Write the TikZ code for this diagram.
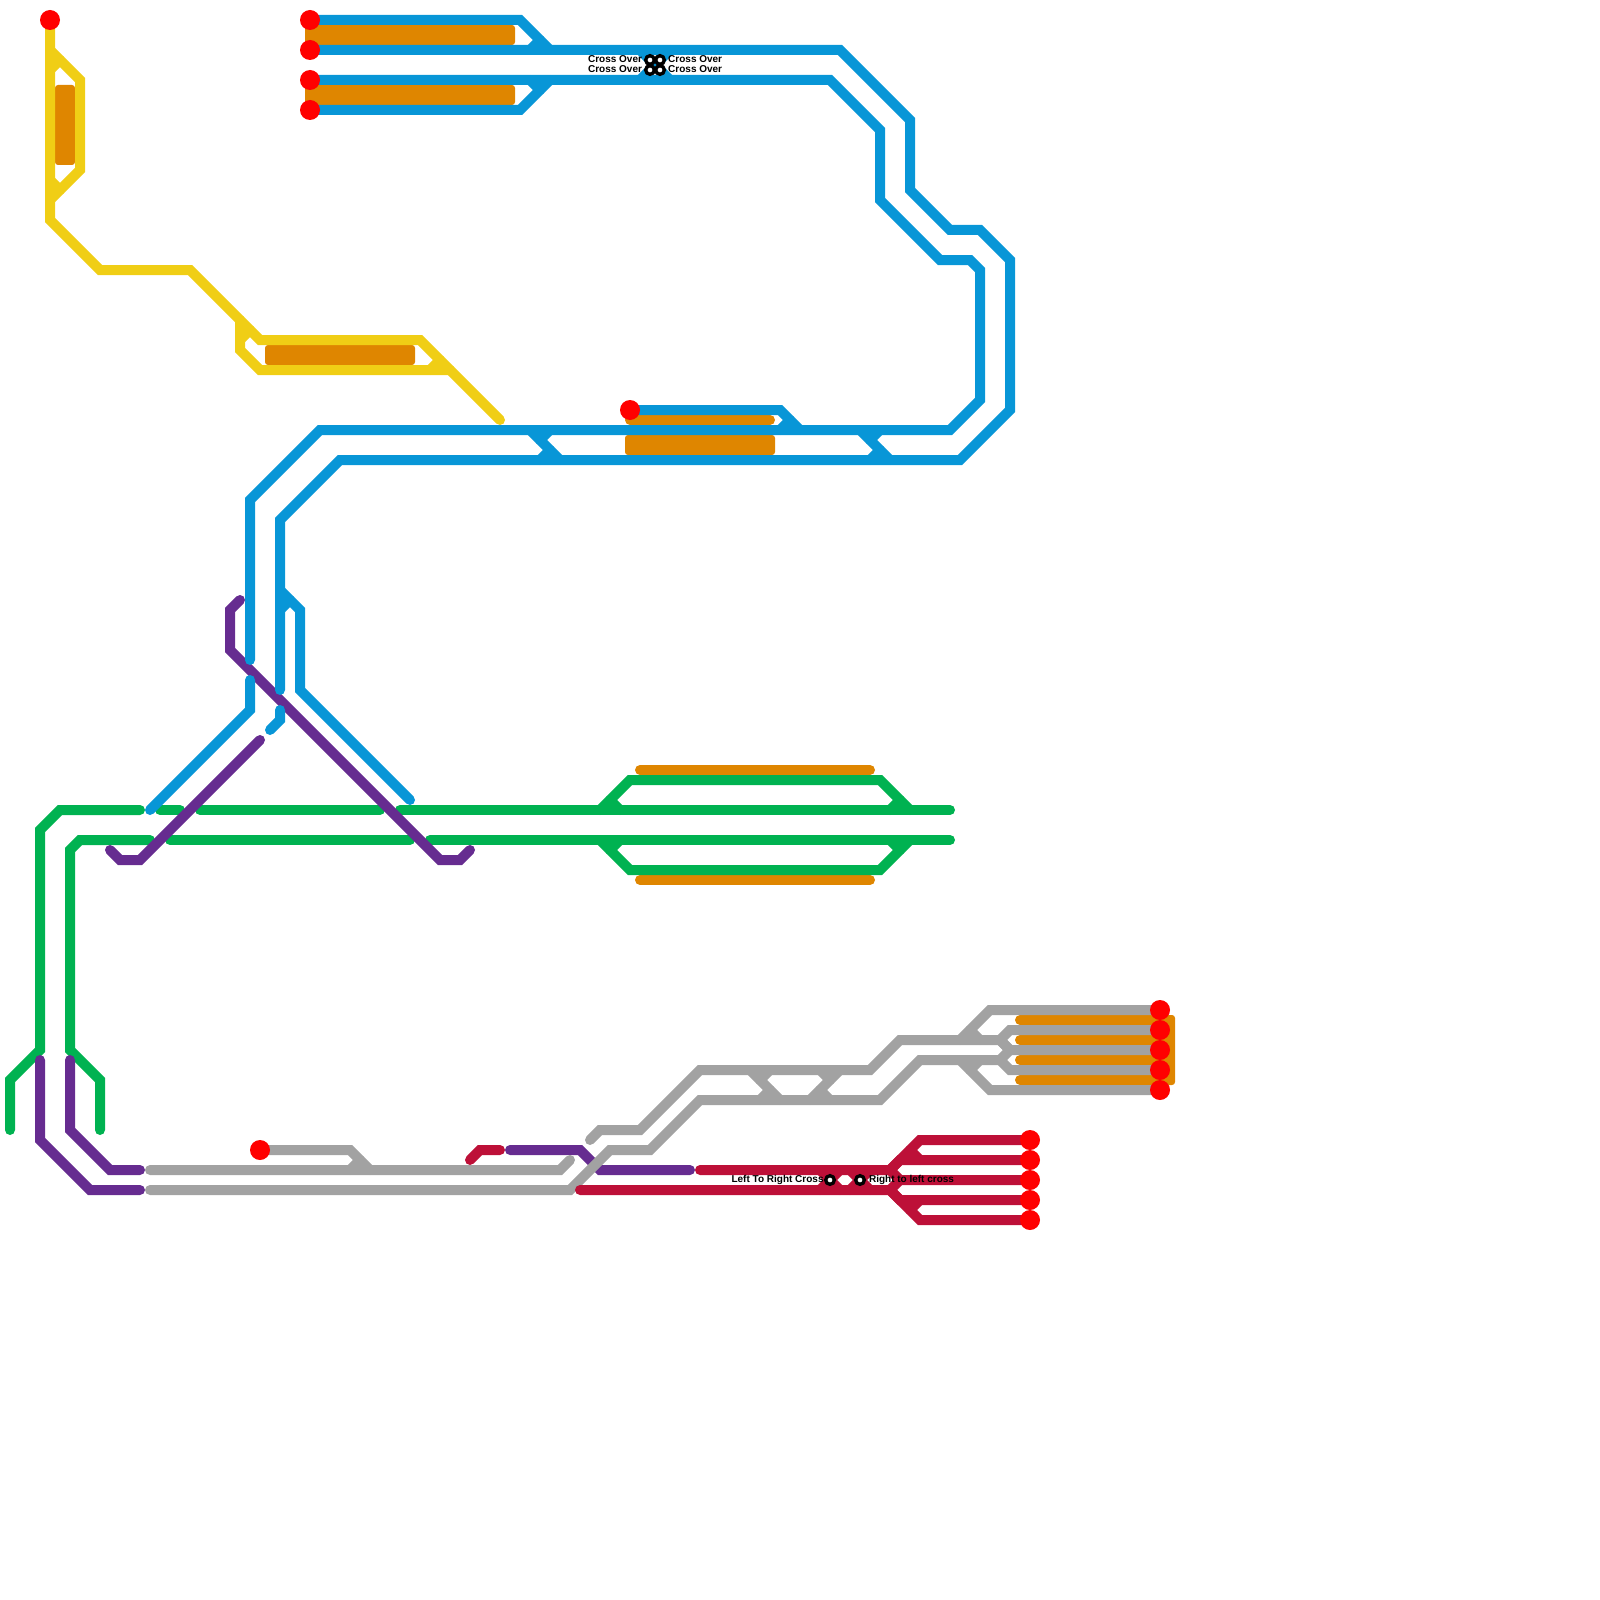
\documentclass[tikz,border=0pt]{standalone}
\usepackage{fontspec}
\setmainfont{Liberation Sans}
\usepackage{tikz}
\usetikzlibrary{positioning}
\definecolor{railblue}{HTML}{0896D7}
\definecolor{railorange}{HTML}{DF8600}
\definecolor{railyellow}{HTML}{F0CE15}
\definecolor{railgreen}{HTML}{00B251}
\definecolor{railpurple}{HTML}{662C90}
\definecolor{railcrimson}{HTML}{BD1038}
\definecolor{railgray}{HTML}{A2A2A2}
\tikzset{
  track/.style={line width=1mm, line cap=round, line join=miter, miter limit=10},
  bluetrack/.style={track, draw=railblue},
  yellowtrack/.style={track, draw=railyellow},
  greentrack/.style={track, draw=railgreen},
  purpletrack/.style={track, draw=railpurple},
  crimsontrack/.style={track, draw=railcrimson},
  graytrack/.style={track, draw=railgray},
  platformline/.style={track, draw=railorange},
  platformbox/.style={fill=railorange, rounded corners=0.3mm},
  stopdot/.style={circle, fill=red, inner sep=0pt, minimum size=2mm},
  crossring/.style={circle, draw=black, fill=white, line width=0.335mm, inner sep=0pt, outer sep=0pt, minimum size=0.865mm},
  tracklabel/.style={inner sep=0pt, yshift=0.1mm, text height=0.72mm, text depth=0pt, font=\fontsize{2.845}{3.2}\selectfont\bfseries}
}
\begin{document}
\begin{tikzpicture}[x=1mm, y=-1mm]
  \useasboundingbox (0,0) rectangle (160,160);
  \coordinate (yend) at (5,2);
  \coordinate (ba) at (31,2);
  \coordinate (bb) at (31,5);
  \coordinate (bc) at (31,8);
  \coordinate (bd) at (31,11);
  \coordinate (be) at (63,41);
  \coordinate (ga) at (26,115);
  \coordinate (ca) at (103,114);
  \coordinate (cb) at (103,116);
  \coordinate (cc) at (103,118);
  \coordinate (cd) at (103,120);
  \coordinate (ce) at (103,122);
  \coordinate (gb) at (116,101);
  \coordinate (gc) at (116,103);
  \coordinate (gd) at (116,105);
  \coordinate (ge) at (116,107);
  \coordinate (gf) at (116,109);

  % platforms
  \fill[platformbox] (5.5,8.5) rectangle (7.5,16.5);
  \fill[platformbox] (30.5,2.5) rectangle (51.5,4.5);
  \fill[platformbox] (30.5,8.5) rectangle (51.5,10.5);
  \fill[platformbox] (26.5,34.5) rectangle (41.5,36.5);
  \fill[platformbox] (62.5,43.5) rectangle (77.5,45.5);
  \fill[platformbox] (115.5,101.5) rectangle (117.5,108.5);
  \draw[platformline] (63,42) -- (77,42);
  \draw[platformline] (64,77) -- (87,77);
  \draw[platformline] (64,88) -- (87,88);
  \draw[platformline] (102,102) -- (116,102);
  \draw[platformline] (102,104) -- (116,104);
  \draw[platformline] (102,106) -- (116,106);
  \draw[platformline] (102,108) -- (116,108);

  % yellow
  \draw[yellowtrack] (yend) -- (5,22) -- (10,27) -- (19,27) -- (26,34) -- (42,34) -- (50,42);
  \draw[yellowtrack] (5,5) -- (8,8) -- (8,17) -- (5,20);
  \draw[yellowtrack] (5,7) -- (6,6);
  \draw[yellowtrack] (5,18) -- (6,19);
  \draw[yellowtrack] (24,32) -- (24,35) -- (26,37) -- (45,37);
  \draw[yellowtrack] (24,34) -- (25,33);
  \draw[yellowtrack] (43,37) -- (44,36);

  % green
  \draw[greentrack] (1,113) -- (1,108) -- (4,105) -- (4,83) -- (6,81) -- (14,81);
  \draw[greentrack] (10,113) -- (10,108) -- (7,105) -- (7,85) -- (8,84) -- (15,84);
  \draw[greentrack] (16,81) -- (18,81);
  \draw[greentrack] (20,81) -- (38,81);
  \draw[greentrack] (17,84) -- (41,84);
  \draw[greentrack] (40,81) -- (95,81);
  \draw[greentrack] (43,84) -- (95,84);
  \draw[greentrack] (60,81) -- (63,78) -- (88,78) -- (91,81);
  \draw[greentrack] (60,84) -- (63,87) -- (88,87) -- (91,84);
  \draw[greentrack] (61,80) -- (62,81);
  \draw[greentrack] (89,81) -- (90,80);
  \draw[greentrack] (61,85) -- (62,84);
  \draw[greentrack] (89,84) -- (90,85);

  % purple
  \draw[purpletrack] (24,60) -- (23,61) -- (23,65) -- (44,86) -- (46,86) -- (47,85);
  \draw[purpletrack] (11,85) -- (12,86) -- (14,86) -- (26,74);
  \draw[purpletrack] (4,106) -- (4,114) -- (9,119) -- (14,119);
  \draw[purpletrack] (7,106) -- (7,113) -- (11,117) -- (14,117);
  \draw[purpletrack] (51,115) -- (58,115) -- (60,117) -- (69,117);

  % blue
  \draw[bluetrack] (ba) -- (52,2) -- (55,5);
  \draw[bluetrack] (53,5) -- (54,4);
  \draw[bluetrack] (bd) -- (52,11) -- (55,8);
  \draw[bluetrack] (53,8) -- (54,9);
  \draw[bluetrack] (bb) -- (84,5) -- (91,12) -- (91,19) -- (95,23) -- (98,23) -- (101,26) -- (101,41) -- (96,46) -- (34,46) -- (28,52) -- (28,69);
  \draw[bluetrack] (bc) -- (83,8) -- (88,13) -- (88,20) -- (94,26) -- (97,26) -- (98,27) -- (98,40) -- (95,43) -- (32,43) -- (25,50) -- (25,66);
  \draw[bluetrack] (64,5) -- (67,8);
  \draw[bluetrack] (64,8) -- (67,5);
  \draw[bluetrack] (be) -- (78,41) -- (80,43);
  \draw[bluetrack] (78,43) -- (79,42);
  \draw[bluetrack] (53,43) -- (56,46);
  \draw[bluetrack] (55,43) -- (54,44);
  \draw[bluetrack] (54,46) -- (55,45);
  \draw[bluetrack] (86,43) -- (89,46);
  \draw[bluetrack] (88,43) -- (87,44);
  \draw[bluetrack] (87,46) -- (88,45);
  \draw[bluetrack] (25,68) -- (25,71) -- (15,81);
  \draw[bluetrack] (28,71) -- (28,72) -- (27,73);
  \draw[bluetrack] (28,59) -- (30,61) -- (30,69) -- (41,80);
  \draw[bluetrack] (28,61) -- (29,60);

  % gray
  \draw[graytrack] (ga) -- (35,115) -- (37,117);
  \draw[graytrack] (35,117) -- (36,116);
  \draw[graytrack] (15,117) -- (56,117) -- (57,116);
  \draw[graytrack] (15,119) -- (57,119) -- (61,115) -- (65,115) -- (70,110) -- (88,110) -- (92,106) -- (100,106) -- (101,105) -- (100,104);
  \draw[graytrack] (59,114) -- (60,113) -- (64,113) -- (70,107) -- (87,107) -- (90,104) -- (100,104) -- (101,103) -- (gc);
  \draw[graytrack] (75,107) -- (78,110);
  \draw[graytrack] (77,107) -- (76,108);
  \draw[graytrack] (76,110) -- (77,109);
  \draw[graytrack] (84,107) -- (81,110);
  \draw[graytrack] (82,107) -- (83,108);
  \draw[graytrack] (82,109) -- (83,110);
  \draw[graytrack] (96,104) -- (99,101) -- (gb);
  \draw[graytrack] (97,103) -- (98,104);
  \draw[graytrack] (96,106) -- (99,109) -- (gf);
  \draw[graytrack] (98,106) -- (97,107);
  \draw[graytrack] (100,104) -- (101,105) -- (gd);
  \draw[graytrack] (100,106) -- (101,107) -- (ge);

  % crimson
  \draw[crimsontrack] (47,116) -- (48,115) -- (50,115);
  \draw[crimsontrack] (70,117) -- (89,117) -- (92,114) -- (ca);
  \draw[crimsontrack] (58,119) -- (89,119) -- (92,122) -- (ce);
  \draw[crimsontrack] (89,117) -- (90,116) -- (cb);
  \draw[crimsontrack] (89,117) -- (90,118) -- (cc);
  \draw[crimsontrack] (89,119) -- (90,118);
  \draw[crimsontrack] (89,119) -- (90,120) -- (cd);
  \draw[crimsontrack] (91,115) -- (92,116);
  \draw[crimsontrack] (91,121) -- (92,120);
  \draw[crimsontrack] (82,117) -- (84,119);
  \draw[crimsontrack] (82,119) -- (84,117);
  \draw[crimsontrack] (85,117) -- (87,119);
  \draw[crimsontrack] (85,119) -- (87,117);

  % stops
  \node[stopdot] (yendstop) at (yend) {};
  \node[stopdot] (bastop) at (ba) {};
  \node[stopdot] (bbstop) at (bb) {};
  \node[stopdot] (bcstop) at (bc) {};
  \node[stopdot] (bdstop) at (bd) {};
  \node[stopdot] (bestop) at (be) {};
  \node[stopdot] (gastop) at (ga) {};
  \node[stopdot] (castop) at (ca) {};
  \node[stopdot] (cbstop) at (cb) {};
  \node[stopdot] (ccstop) at (cc) {};
  \node[stopdot] (cdstop) at (cd) {};
  \node[stopdot] (cestop) at (ce) {};
  \node[stopdot] (gbstop) at (gb) {};
  \node[stopdot] (gcstop) at (gc) {};
  \node[stopdot] (gdstop) at (gd) {};
  \node[stopdot] (gestop) at (ge) {};
  \node[stopdot] (gfstop) at (gf) {};

  % crossings
  \node[crossring] (crossa) at (65,6) {};
  \node[crossring] (crossb) at (66,6) {};
  \node[crossring] (crossc) at (65,7) {};
  \node[crossring] (crossd) at (66,7) {};
  \node[crossring] (crosse) at (83,118) {};
  \node[crossring] (crossf) at (86,118) {};
  \node[tracklabel, left=0.3mm of crossa] (labela) {Cross Over};
  \node[tracklabel, right=0.32mm of crossb] (labelb) {Cross Over};
  \node[tracklabel, left=0.3mm of crossc] (labelc) {Cross Over};
  \node[tracklabel, right=0.32mm of crossd] (labeld) {Cross Over};
  \node[tracklabel, left=0.14mm of crosse] (labele) {Left To Right Cross};
  \node[tracklabel, right=0.4mm of crossf] (labelf) {Right to left cross};
\end{tikzpicture}
\end{document}
